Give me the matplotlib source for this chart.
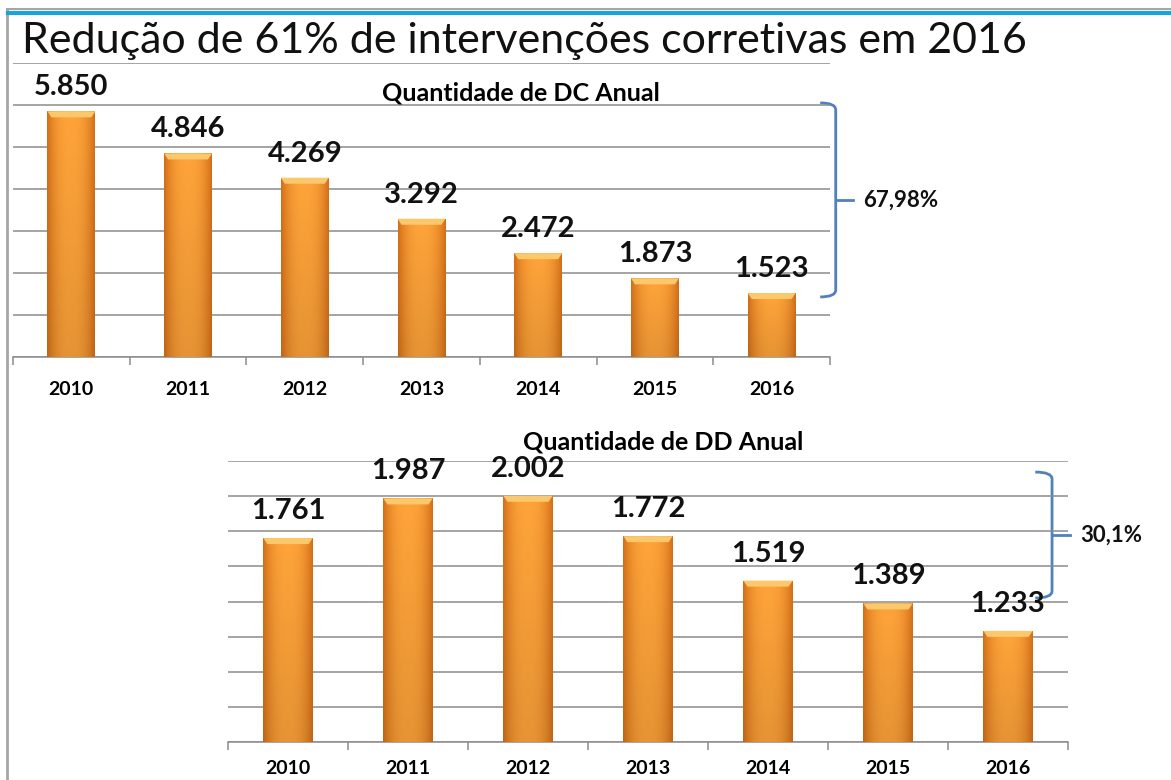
import numpy as np
import matplotlib.pyplot as plt
import matplotlib.transforms as mtransforms
from matplotlib.colors import to_rgb
from matplotlib.path import Path
from matplotlib.patches import PathPatch, Polygon

plt.rcParams['font.family'] = ['Lato', 'DejaVu Sans']

# Dados
anos = ['2010', '2011', '2012', '2013', '2014', '2015', '2016']
dc_valores = [5850, 4846, 4269, 3292, 2472, 1873, 1523]
dd_valores = [1761, 1987, 2002, 1772, 1519, 1389, 1233]
dc_reducao = '67,98%'
dd_reducao = '30,1%'
titulo = 'Redução de 61% de intervenções corretivas em 2016'
titulo_dc = 'Quantidade de DC Anual'
titulo_dd = 'Quantidade de DD Anual'

W, H = 1171, 780
fig = plt.figure(figsize=(W / 100, H / 100), dpi=100)


def fmt(v):
    return f'{v:,}'.replace(',', '.')


# gradiente laranja das barras
centro = np.array(to_rgb('#FFA43A'))
borda = np.array(to_rgb('#D46F18'))
t = np.abs(np.linspace(-1, 1, 80)) ** 2.5
linha = centro * (1 - t)[:, None] + borda * t[:, None]
img = np.tile(linha[None, :, :], (120, 1, 1))
img = img * (1 - 0.10 * np.linspace(0, 1, 120))[:, None, None]
img = np.clip(img, 0, 1)


def grafico(pos, valores, ymin, ymax, passo, off_px, pad):
    ax = fig.add_axes(pos)
    x = np.arange(len(valores))
    largura = 0.41
    bars = ax.bar(x, valores, width=largura, color='#F39A2E', zorder=3)
    ax_h_px = pos[3] * H
    ax_w_px = pos[2] * W
    dy = (ymax - ymin) / ax_h_px   # unidades por pixel
    dx = 7 / ax_w_px
    for b, v in zip(bars, valores):
        x0 = b.get_x()
        x1 = x0 + b.get_width()
        im = ax.imshow(img, extent=(x0, x1, ymin, v), aspect='auto', zorder=4)
        im.set_clip_path(b)
        cap = Polygon([(x0, v), (x1, v), (x1 - 4 * dx, v - 6 * dy), (x0 + 4 * dx, v - 6 * dy)],
                      closed=True, facecolor='#FCC86C', edgecolor='none', zorder=5)
        ax.add_patch(cap)
        ax.annotate(fmt(v), (b.get_x() + largura / 2, v), xytext=(0, off_px * 0.72),
                    textcoords='offset points', ha='center', va='center',
                    fontsize=21, fontweight='bold', color='#111111', zorder=6)
    ax.set_xlim(-0.5, len(valores) - 0.5)
    ax.set_ylim(ymin, ymax)
    ax.set_yticks(np.arange(ymin, ymax + 1, passo))
    ax.yaxis.grid(True, color='#8C8C8C', lw=1.1, zorder=0)
    ax.tick_params(axis='y', length=0, labelleft=False)
    ax.set_xticks(x)
    ax.set_xticklabels(anos, fontsize=14, fontweight='bold')
    ax.set_xticks(np.arange(-0.5, len(valores)), minor=True)
    ax.tick_params(axis='x', which='major', length=0, pad=pad)
    ax.tick_params(axis='x', which='minor', length=6, color='#8C8C8C', width=1.1)
    for s in ['top', 'right', 'left']:
        ax.spines[s].set_visible(False)
    ax.spines['bottom'].set_color('#8C8C8C')
    ax.spines['bottom'].set_linewidth(1.1)
    ax.set_facecolor('none')
    return ax, dy


def chave(ax, dy, y_top, y_bot, x0, x1, x2, texto):
    trans = mtransforms.blended_transform_factory(ax.transAxes, ax.transData)
    r = 7 * dy
    ym = (y_top + y_bot) / 2
    verts = [(x0, y_top), (x1, y_top), (x1, y_top - r), (x1, y_bot + r), (x1, y_bot), (x0, y_bot)]
    codes = [Path.MOVETO, Path.CURVE3, Path.CURVE3, Path.LINETO, Path.CURVE3, Path.CURVE3]
    ax.add_patch(PathPatch(Path(verts, codes), transform=trans, fill=False,
                           edgecolor='#4F81BD', lw=2, clip_on=False))
    ax.plot([x1, x2], [ym, ym], transform=trans, color='#4F81BD', lw=2, clip_on=False)
    ax.text(x2 + 0.013, ym, texto, transform=trans, ha='left', va='center',
            fontsize=16, fontweight='bold', color='#111111')


# moldura do slide
fig.add_artist(plt.Line2D([0.006, 0.006], [0, 0.9885], color='#A6A6A6', lw=2))
fig.add_artist(plt.Line2D([0.006, 1], [0.9885, 0.9885], color='#A6A6A6', lw=1.5))
fig.add_artist(plt.Line2D([0.007, 1], [0.9833, 0.9833], color='#1AA3DD', lw=3))
fig.text(22 / W, 1 - 53 / H, titulo, fontsize=31, ha='left', va='baseline', color='#111111')

# grafico DC
ax1, dy1 = grafico([13 / W, 1 - 357 / H, 817 / W, 294 / H], dc_valores, 0, 7000, 1000, 24, 17)
fig.text(521 / W, 1 - 93 / H, titulo_dc, fontsize=18, fontweight='bold', ha='center', va='center')
chave(ax1, dy1, 6050, 1430, 0.988, 1.007, 1.028, dc_reducao)

# grafico DD
ax2, dy2 = grafico([228 / W, 1 - 742 / H, 840 / W, 281 / H], dd_valores, 600, 2200, 200, 27, 13)
fig.text(663 / W, 1 - 442 / H, titulo_dd, fontsize=18, fontweight='bold', ha='center', va='center')
chave(ax2, dy2, 2137, 1420, 0.961, 0.981, 1.002, dd_reducao)

fig.savefig('out.png', dpi=100)
